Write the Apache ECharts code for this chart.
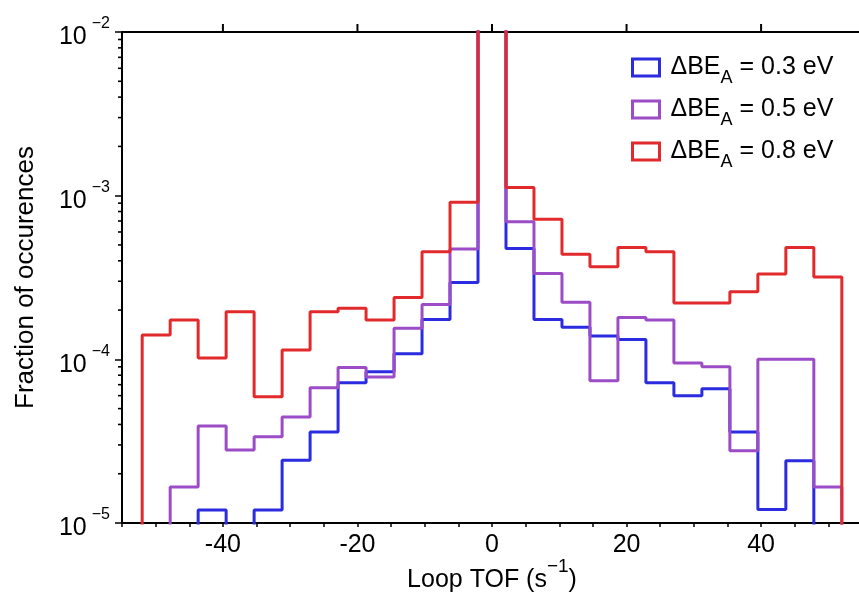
<!DOCTYPE html>
<html>
<head>
<meta charset="utf-8">
<script src="https://cdn.jsdelivr.net/npm/echarts@6/dist/echarts.min.js"></script>
<style>
  html, body { margin: 0; padding: 0; background: #fff; }
  #chart { width: 859px; height: 601px; }
</style>
</head>
<body>
<div id="chart"></div>
<script>
// bin edges of the loop TOF histogram (s^-1)
var binEdges = [-52, -47.84, -43.68, -39.52, -35.36, -31.2, -27.04, -22.88, -18.72, -14.56, -10.4, -6.24, -2.08,
  2.08, 6.24, 10.4, 14.56, 18.72, 22.88, 27.04, 31.2, 35.36, 39.52, 43.68, 47.84, 52];

// fraction of occurences per bin (0 = empty bin); centre bin runs off the top
var be03 = [0, 0, 1.2e-5, 0, 1.2e-5, 2.42e-5, 3.6e-5, 7.2e-5, 8.4e-5, 1.08e-4, 1.75e-4, 2.95e-4, 0.5,
  4.76e-4, 1.75e-4, 1.57e-4, 1.39e-4, 1.32e-4, 7.2e-5, 6.0e-5, 6.6e-5, 3.6e-5, 1.21e-5, 2.4e-5, 0];
var be05 = [0, 1.66e-5, 3.91e-5, 2.79e-5, 3.36e-5, 4.45e-5, 6.7e-5, 8.9e-5, 7.8e-5, 1.55e-4, 2.16e-4, 4.72e-4, 0.5,
  6.93e-4, 3.35e-4, 2.23e-4, 7.4e-5, 1.8e-4, 1.74e-4, 9.5e-5, 9.0e-5, 2.76e-5, 1.0e-4, 1.0e-4, 1.66e-5];
var be08 = [1.41e-4, 1.74e-4, 1.02e-4, 1.95e-4, 5.9e-5, 1.14e-4, 1.95e-4, 2.05e-4, 1.74e-4, 2.39e-4, 4.54e-4, 9.1e-4, 0.5,
  1.12e-3, 7.17e-4, 4.38e-4, 3.68e-4, 4.83e-4, 4.54e-4, 2.21e-4, 2.21e-4, 2.59e-4, 3.32e-4, 4.83e-4, 3.19e-4];

var deltaBE = ['0.3', '0.5', '0.8'];
var colors = ['#2b2bdf', '#9b4cc6', '#e2292b'];
var xTickLabels = [-40, -20, 0, 20, 40];

var X_MIN = -55, X_MAX = 55;
var Y_MIN = 1e-5, Y_MAX = 1e-2;
var FLOOR = 1e-8; // empty bins drop below the axis and get clipped

// outline of a step histogram: each bin becomes a flat segment
function stepLine(vals) {
  var pts = [[binEdges[0], FLOOR]];
  for (var i = 0; i < vals.length; i++) {
    var v = vals[i] > 0 ? vals[i] : FLOOR;
    pts.push([binEdges[i], v]);
    pts.push([binEdges[i + 1], v]);
  }
  pts.push([binEdges[binEdges.length - 1], FLOOR]);
  return pts;
}

// log minor tick values 2..9 x 10^e
var minorY = [];
for (var e = -5; e < -2; e++) {
  for (var m = 2; m <= 9; m++) minorY.push([X_MIN, m * Math.pow(10, e)]);
}

var chart = echarts.init(document.getElementById('chart'));
var font = "'Liberation Sans', Arial, sans-serif";

var histSeries = [be03, be05, be08].map(function (vals, i) {
  return {
    name: deltaBE[i],
    type: 'line',
    data: stepLine(vals),
    symbol: 'none',
    clip: true,
    lineStyle: { color: colors[i], width: 3 },
    itemStyle: { color: colors[i] },
    z: 2 + i
  };
});

var minorTickSeries = {
  type: 'custom',
  silent: true,
  data: minorY,
  clip: false,
  renderItem: function (params, api) {
    var p = api.coord([api.value(0), api.value(1)]);
    return {
      type: 'line',
      shape: { x1: p[0] - 4, y1: p[1], x2: p[0], y2: p[1] },
      style: { stroke: '#000', lineWidth: 1.6 }
    };
  },
  z: 10
};

chart.setOption({
  animation: false,
  textStyle: { fontFamily: font, color: '#000' },
  grid: { left: 122, top: 32, bottom: 78, right: -3, containLabel: false, outerBoundsMode: 'none' },
  legend: {
    orient: 'vertical',
    left: 631,
    top: 55,
    padding: 0,
    itemWidth: 27,
    itemHeight: 17,
    itemGap: 10,
    selectedMode: false,
    data: deltaBE.map(function (d, i) {
      return {
        name: d,
        icon: 'rect',
        itemStyle: { color: 'rgba(0,0,0,0)', borderColor: colors[i], borderWidth: 3 }
      };
    }),
    formatter: function (name) {
      return '{m|ΔBE}{s|A}{m| = ' + name + ' eV}';
    },
    textStyle: {
      padding: [0, 0, 0, 6],
      rich: {
        m: { fontSize: 25, lineHeight: 39, color: '#000', fontFamily: font },
        s: { fontSize: 18, lineHeight: 18, verticalAlign: 'bottom', color: '#000', fontFamily: font }
      }
    }
  },
  xAxis: [{
    type: 'value',
    min: X_MIN,
    max: X_MAX,
    interval: 5,
    position: 'bottom',
    axisLine: { show: true, onZero: false, lineStyle: { color: '#000', width: 2 } },
    axisTick: { show: true, length: 4, lineStyle: { color: '#000', width: 1.5 } },
    axisLabel: {
      customValues: xTickLabels,
      fontSize: 25,
      margin: 10,
      color: '#000'
    },
    splitLine: { show: false },
    name: '{n|Loop TOF (s}{sup|−1}{n|)}',
    nameLocation: 'middle',
    nameGap: 34,
    nameMoveOverlap: false,
    nameTextStyle: {
      rich: {
        n: { fontSize: 25, lineHeight: 47, color: '#000', fontFamily: font },
        sup: { fontSize: 19, lineHeight: 19, verticalAlign: 'top', color: '#000', fontFamily: font }
      }
    }
  }, {
    type: 'value',
    min: X_MIN,
    max: X_MAX,
    position: 'top',
    axisLine: { show: true, onZero: false, lineStyle: { color: '#000', width: 2 } },
    axisTick: { show: false },
    axisLabel: { show: false },
    splitLine: { show: false }
  }],
  yAxis: {
    type: 'log',
    logBase: 10,
    min: Y_MIN,
    max: Y_MAX,
    axisLine: { show: true, onZero: false, lineStyle: { color: '#000', width: 2 } },
    axisTick: { show: true, length: 7, lineStyle: { color: '#000', width: 1.5 } },
    splitLine: { show: false },
    axisLabel: {
      margin: 12,
      padding: [11, 0, 0, 0],
      formatter: function (v) {
        var ex = Math.round(Math.log(v) / Math.LN10);
        return '{b|10}{sup|' + (ex < 0 ? '−' : '') + Math.abs(ex) + '}';
      },
      rich: {
        b: { fontSize: 25, lineHeight: 43, color: '#000', fontFamily: font },
        sup: { fontSize: 16, lineHeight: 16, verticalAlign: 'top', padding: [0, 0, 0, 5], color: '#000', fontFamily: font }
      }
    },
    name: 'Fraction of occurences',
    nameLocation: 'middle',
    nameRotate: 90,
    nameGap: 83,
    nameMoveOverlap: false,
    nameTextStyle: { fontSize: 26, color: '#000' }
  },
  series: histSeries.concat([minorTickSeries])
});

// major ticks on the top frame, placed through the chart's own scales
var topTicks = [];
xTickLabels.forEach(function (x) {
  var p = chart.convertToPixel({ xAxisIndex: 0, yAxisIndex: 0 }, [x, Y_MAX]);
  if (p && isFinite(p[0]) && isFinite(p[1])) {
    topTicks.push({
      type: 'rect',
      silent: true,
      z: 100,
      shape: { x: p[0] - 1, y: p[1] - 8, width: 2, height: 8 },
      style: { fill: '#000' }
    });
  }
});
chart.setOption({ graphic: { elements: topTicks } });
</script>
</body>
</html>
